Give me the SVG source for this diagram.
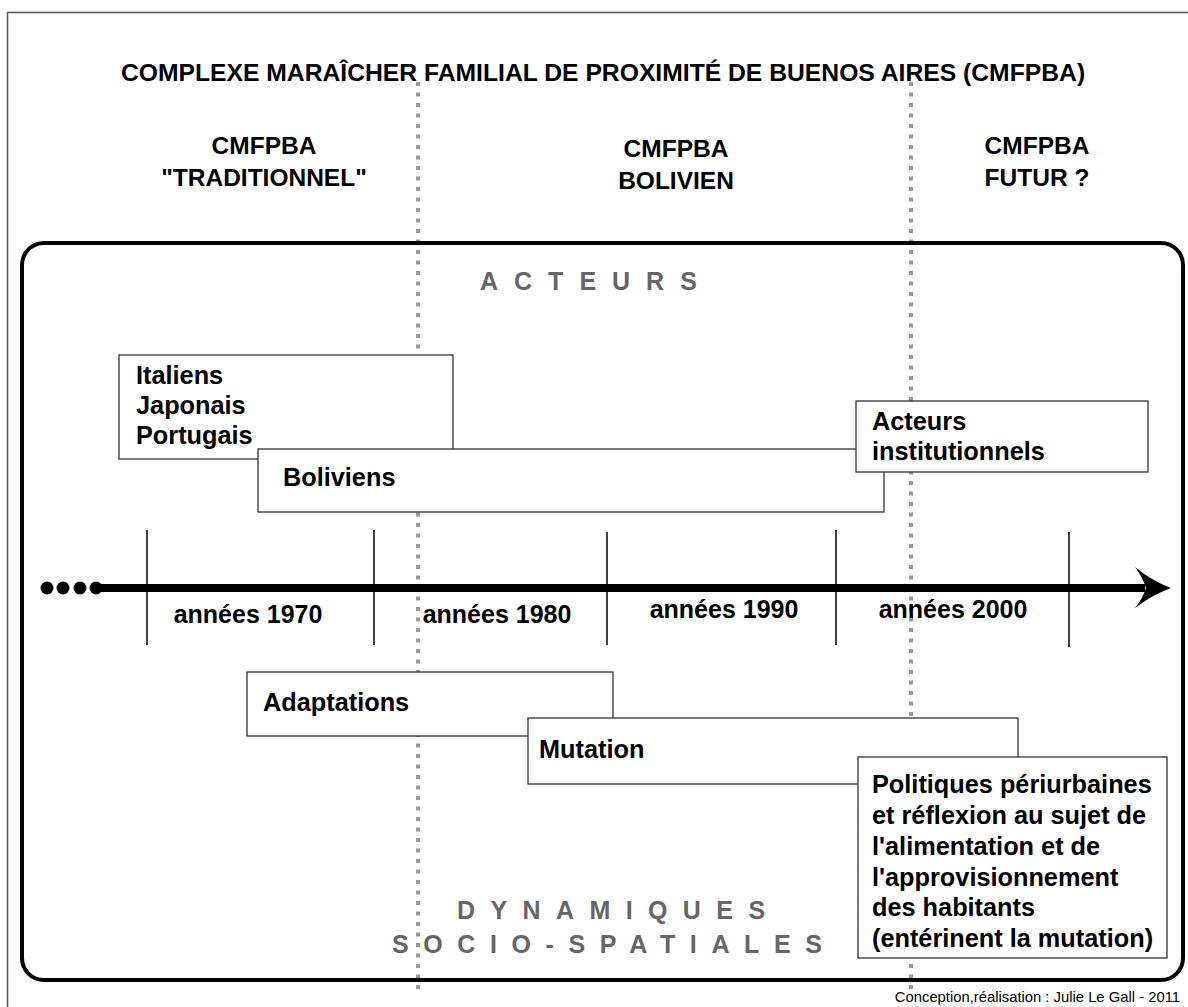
<svg xmlns="http://www.w3.org/2000/svg" width="1188" height="1007" viewBox="0 0 1188 1007">
<defs>
<style>
.t{font-family:"Liberation Sans",Arial,sans-serif;font-weight:bold;fill:#000}
.h{font-size:24.5px;text-anchor:middle}
.b{font-size:25.3px}
.y{font-size:25px;text-anchor:middle}
.g{font-family:"Liberation Sans",Arial,sans-serif;font-weight:bold;fill:#666;font-size:25px;letter-spacing:16px}
.box{fill:#fff;stroke:#333;stroke-width:1.3}
.dot{stroke:#999;stroke-width:4;stroke-dasharray:4 6.5;fill:none}
.tick{stroke:#000;stroke-width:1.5}
</style>
</defs>
<rect width="1188" height="1007" fill="#fff"/>
<path d="M7.5,1007 V12.5 H1188" fill="none" stroke="#555" stroke-width="1.5"/>
<g id="separators">
<line class="dot" x1="418" y1="82" x2="418" y2="992"/>
<line class="dot" x1="911" y1="82" x2="911" y2="992"/>
</g>
<g id="frame">
<rect x="22" y="243" width="1161" height="737" rx="22" fill="none" stroke="#000" stroke-width="4"/>
</g>
<text class="t" x="603" y="81" font-size="24.7" text-anchor="middle">COMPLEXE MARAÎCHER FAMILIAL DE PROXIMITÉ DE BUENOS AIRES (CMFPBA)</text>
<g id="col-traditionnel"><text class="t h" x="264" y="154">CMFPBA</text><text class="t h" x="264" y="186">"TRADITIONNEL"</text></g>
<g id="col-bolivien"><text class="t h" x="676" y="157">CMFPBA</text><text class="t h" x="676" y="189">BOLIVIEN</text></g>
<g id="col-futur"><text class="t h" x="1037" y="154">CMFPBA</text><text class="t h" x="1037" y="186">FUTUR ?</text></g>
<text class="g" x="480" y="290">ACTEURS</text>
<g id="italiens"><rect class="box" x="119" y="355" width="334" height="104"/>
<text class="t b" x="136" y="384">Italiens</text><text class="t b" x="136" y="414">Japonais</text><text class="t b" x="136" y="444">Portugais</text></g>
<g id="boliviens"><rect class="box" x="258" y="449" width="626" height="63"/>
<text class="t b" x="283" y="486">Boliviens</text></g>
<g id="acteurs-inst"><rect class="box" x="856" y="401" width="292" height="71"/>
<text class="t b" x="872" y="430">Acteurs</text><text class="t b" x="872" y="460">institutionnels</text></g>
<g id="connectors">
<line class="tick" x1="147" y1="530" x2="147" y2="645"/>
<line class="tick" x1="374" y1="530" x2="374" y2="645"/>
<line class="tick" x1="607" y1="532" x2="607" y2="645"/>
<line class="tick" x1="836" y1="530" x2="836" y2="645"/>
<line class="tick" x1="1069" y1="532" x2="1069" y2="647"/>
<line x1="96" y1="588" x2="1145" y2="588" stroke="#000" stroke-width="8"/>
<path d="M1135,567 Q1152,581 1171,588 Q1152,595 1135,608 Q1143,598 1146,588 Q1143,578 1135,567 Z" fill="#000"/>
<circle cx="47" cy="588" r="6.5"/><circle cx="63" cy="588" r="6.5"/><circle cx="80" cy="588" r="6.5"/><circle cx="96" cy="588" r="6.5"/>
</g>
<text class="t y" x="248" y="623">années 1970</text>
<text class="t y" x="497" y="623">années 1980</text>
<text class="t y" x="724" y="618">années 1990</text>
<text class="t y" x="953" y="618">années 2000</text>
<g id="adaptations"><rect class="box" x="247" y="672" width="366" height="64"/>
<text class="t b" x="263" y="711">Adaptations</text></g>
<g id="mutation"><rect class="box" x="528" y="718" width="490" height="66"/>
<text class="t b" x="539" y="758">Mutation</text></g>
<g id="politiques"><rect class="box" x="858" y="757" width="309" height="201"/>
<text class="t b" x="872" y="793">Politiques périurbaines</text>
<text class="t b" x="872" y="824">et réflexion au sujet de</text>
<text class="t b" x="872" y="855">l'alimentation et de</text>
<text class="t b" x="872" y="886">l'approvisionnement</text>
<text class="t b" x="872" y="916">des habitants</text>
<text class="t b" x="872" y="947">(entérinent la mutation)</text></g>
<text class="g" x="457" y="919" style="letter-spacing:15.4px">DYNAMIQUES</text>
<text class="g" x="392" y="953" style="letter-spacing:14.6px">SOCIO-SPATIALES</text>
<text x="1180" y="1002" font-family="Liberation Sans,Arial,sans-serif" font-size="14.8" text-anchor="end" fill="#000">Conception,réalisation : Julie Le Gall - 2011</text>
</svg>
